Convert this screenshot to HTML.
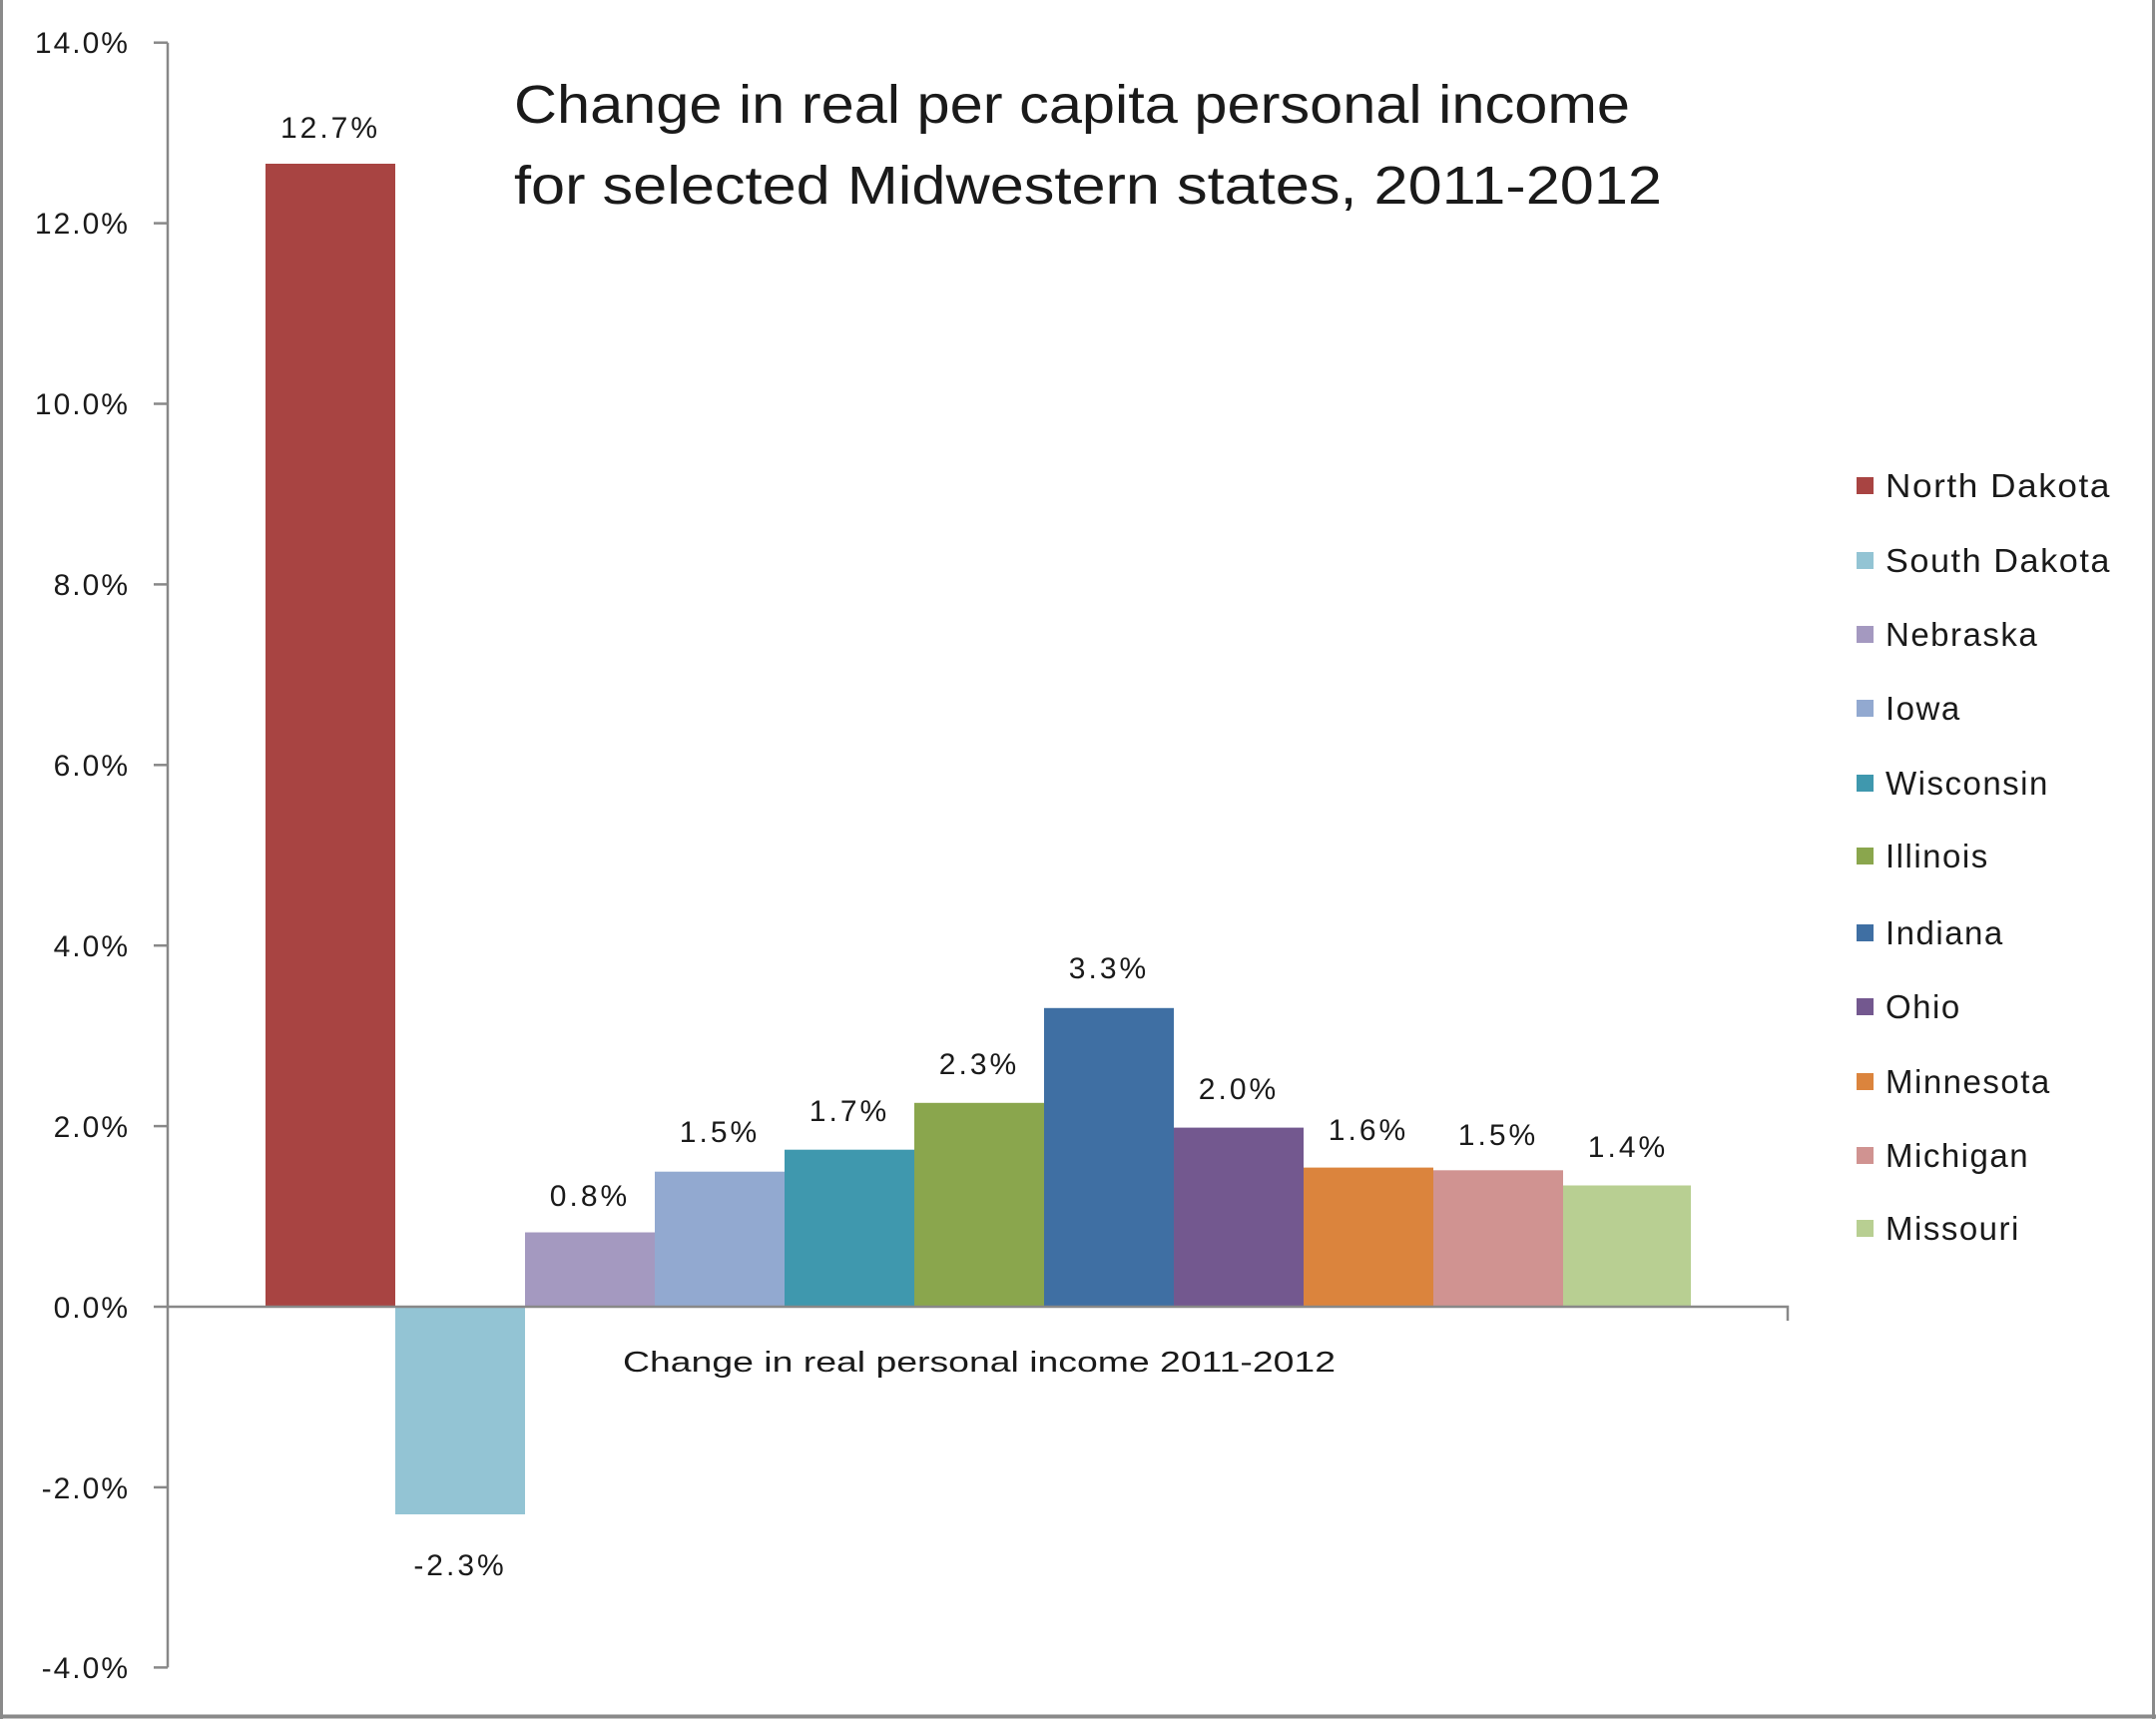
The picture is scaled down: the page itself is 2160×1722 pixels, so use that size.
<!DOCTYPE html>
<html><head><meta charset="utf-8"><style>
html,body{margin:0;padding:0;background:#fff;}
svg{display:block;}
text{font-family:"Liberation Sans",sans-serif;fill:#1a1a1a;}
</style></head><body>
<svg width="2160" height="1722" viewBox="0 0 2160 1722" xmlns="http://www.w3.org/2000/svg">
<rect x="0" y="0" width="2160" height="1722" fill="#fff"/>
<line x1="1.5" y1="0" x2="1.5" y2="1722" stroke="#8a8a8a" stroke-width="3"/>
<line x1="2157.5" y1="0" x2="2157.5" y2="1722" stroke="#8a8a8a" stroke-width="3"/>
<line x1="0" y1="1719.5" x2="2160" y2="1719.5" stroke="#8a8a8a" stroke-width="4"/>
<text x="515" y="123" font-size="54" textLength="1118" lengthAdjust="spacingAndGlyphs">Change in real per capita personal income</text>
<text x="515" y="204" font-size="54" textLength="1150" lengthAdjust="spacingAndGlyphs">for selected Midwestern states, 2011-2012</text>
<g stroke="#888" stroke-width="2.5">
<line x1="168" y1="42.7" x2="168" y2="1670.4"/>
<line x1="154" y1="42.7" x2="168" y2="42.7"/>
<line x1="154" y1="223.6" x2="168" y2="223.6"/>
<line x1="154" y1="404.5" x2="168" y2="404.5"/>
<line x1="154" y1="585.4" x2="168" y2="585.4"/>
<line x1="154" y1="766.3" x2="168" y2="766.3"/>
<line x1="154" y1="947.2" x2="168" y2="947.2"/>
<line x1="154" y1="1128.1" x2="168" y2="1128.1"/>
<line x1="154" y1="1309" x2="168" y2="1309"/>
<line x1="154" y1="1489.9" x2="168" y2="1489.9"/>
<line x1="154" y1="1670.4" x2="168" y2="1670.4"/>
</g>
<g font-size="30" text-anchor="end" letter-spacing="2">
<text x="130" y="53">14.0%</text>
<text x="130" y="234">12.0%</text>
<text x="130" y="415">10.0%</text>
<text x="130" y="596">8.0%</text>
<text x="130" y="777">6.0%</text>
<text x="130" y="958">4.0%</text>
<text x="130" y="1139">2.0%</text>
<text x="130" y="1320">0.0%</text>
<text x="130" y="1501">-2.0%</text>
<text x="130" y="1681">-4.0%</text>
</g>
<rect x="266" y="164" width="130" height="1145" fill="#A84442"/>
<rect x="396" y="1309" width="130" height="208" fill="#93C4D4"/>
<rect x="526" y="1234.5" width="130" height="74.5" fill="#A499C0"/>
<rect x="656" y="1173.7" width="130" height="135.3" fill="#92A9D0"/>
<rect x="786" y="1151.7" width="130" height="157.3" fill="#3F98AE"/>
<rect x="916" y="1104.8" width="130" height="204.2" fill="#8AA64D"/>
<rect x="1046" y="1009.8" width="130" height="299.2" fill="#3F6FA3"/>
<rect x="1176" y="1129.6" width="130" height="179.4" fill="#73588F"/>
<rect x="1306" y="1169.6" width="130" height="139.4" fill="#DB843D"/>
<rect x="1436" y="1172.3" width="130" height="136.7" fill="#D09391"/>
<rect x="1566" y="1187.5" width="128" height="121.5" fill="#B8CF92"/>
<g stroke="#888" stroke-width="2.5" fill="none">
<polyline points="168,1309 1791,1309 1791,1323"/>
</g>
<g font-size="30" text-anchor="middle" letter-spacing="3">
<text x="331" y="138">12.7%</text>
<text x="461" y="1578">-2.3%</text>
<text x="591" y="1208">0.8%</text>
<text x="721" y="1144">1.5%</text>
<text x="851" y="1123">1.7%</text>
<text x="981" y="1076">2.3%</text>
<text x="1111" y="980">3.3%</text>
<text x="1241" y="1101">2.0%</text>
<text x="1371" y="1142">1.6%</text>
<text x="1501" y="1147">1.5%</text>
<text x="1631" y="1159">1.4%</text>
</g>
<text x="981" y="1374" font-size="29" text-anchor="middle" textLength="714" lengthAdjust="spacingAndGlyphs">Change in real personal income 2011-2012</text>
<g>
<rect x="1860" y="478" width="17" height="17" fill="#A84442"/>
<rect x="1860" y="553" width="17" height="17" fill="#93C4D4"/>
<rect x="1860" y="627" width="17" height="17" fill="#A499C0"/>
<rect x="1860" y="701" width="17" height="17" fill="#92A9D0"/>
<rect x="1860" y="776" width="17" height="17" fill="#3F98AE"/>
<rect x="1860" y="849" width="17" height="17" fill="#8AA64D"/>
<rect x="1860" y="926" width="17" height="17" fill="#3F6FA3"/>
<rect x="1860" y="1000" width="17" height="17" fill="#73588F"/>
<rect x="1860" y="1075" width="17" height="17" fill="#DB843D"/>
<rect x="1860" y="1149" width="17" height="17" fill="#D09391"/>
<rect x="1860" y="1222" width="17" height="17" fill="#B8CF92"/>
</g>
<g font-size="33" letter-spacing="1.5">
<text x="1889" y="498" textLength="226" lengthAdjust="spacingAndGlyphs">North Dakota</text>
<text x="1889" y="573" textLength="226" lengthAdjust="spacingAndGlyphs">South Dakota</text>
<text x="1889" y="647">Nebraska</text>
<text x="1889" y="721">Iowa</text>
<text x="1889" y="796">Wisconsin</text>
<text x="1889" y="869">Illinois</text>
<text x="1889" y="946">Indiana</text>
<text x="1889" y="1020">Ohio</text>
<text x="1889" y="1095">Minnesota</text>
<text x="1889" y="1169">Michigan</text>
<text x="1889" y="1242">Missouri</text>
</g>
</svg>
</body></html>
